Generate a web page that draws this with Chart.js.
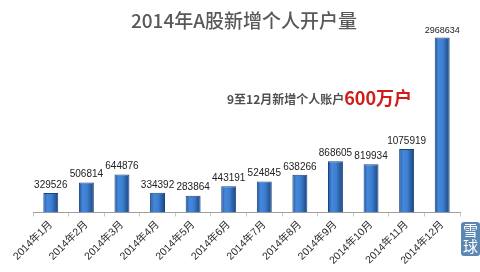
<!DOCTYPE html>
<html>
<head>
<meta charset="utf-8">
<script src="https://cdn.jsdelivr.net/npm/chart.js@4"></script>
<style>
  html, body { margin: 0; padding: 0; background: #fff; }
  #wrap { position: relative; width: 480px; height: 272px; }
  #mark {
    position: absolute; left: 461px; top: 222px; width: 19px; height: 34px;
    background: #5b87b3; border-radius: 3px; color: #fff;
    font: 15px "Noto Sans CJK SC", sans-serif; line-height: 16px; text-align: center;
  }
</style>
</head>
<body>
<div id="wrap">
  <canvas id="myChart"></canvas>
  <div id="mark">雪<br>球</div>
</div>
<script>
const months = ["2014年1月", "2014年2月", "2014年3月", "2014年4月", "2014年5月", "2014年6月",
  "2014年7月", "2014年8月", "2014年9月", "2014年10月", "2014年11月", "2014年12月"];
const accounts = [329526, 506814, 644876, 334392, 283864, 443191,
  524845, 638266, 868605, 819934, 1075919, 2968634];
const titleText = "2014年A股新增个人开户量";
const noteText = "9至12月新增个人账户";
const noteBig = "600万户";

const cjk = "'Liberation Sans', 'Noto Sans CJK SC', sans-serif";

// gradient across each bar to get the rounded look
function barFill(c) {
  const chart = c.chart;
  const area = chart.chartArea;
  if (!area) return "#3a78c9";
  const x = chart.scales.x.getPixelForValue(c.dataIndex);
  const w = (area.right - area.left) / months.length * 0.42;
  const g = chart.ctx.createLinearGradient(x - w / 2, 0, x + w / 2, 0);
  g.addColorStop(0, "#1f5299");
  g.addColorStop(0.25, "#4588da");
  g.addColorStop(0.55, "#3d7ecf");
  g.addColorStop(1, "#1a447f");
  return g;
}

const valueLabels = {
  id: "valueLabels",
  afterDatasetsDraw(chart) {
    const ctx = chart.ctx;
    const meta = chart.getDatasetMeta(0);
    ctx.save();
    ctx.fillStyle = "#222";
    ctx.textAlign = "center";
    ctx.textBaseline = "bottom";
    meta.data.forEach((bar, i) => {
      ctx.font = (i === 11 ? "9px " : "10px ") + cjk;
      ctx.fillText(accounts[i], bar.x, bar.y - 3);
    });
    ctx.restore();
  }
};

const textBits = {
  id: "textBits",
  afterDraw(chart) {
    const ctx = chart.ctx;
    ctx.save();
    ctx.textBaseline = "middle";
    ctx.textAlign = "center";
    ctx.fillStyle = "#595959";
    ctx.font = "500 19px 'Noto Sans CJK SC', sans-serif";
    ctx.fillText(titleText, 244, 21);

    ctx.textAlign = "left";
    ctx.fillStyle = "#505050";
    ctx.font = "bold 12px 'Noto Sans CJK SC', sans-serif";
    ctx.fillText(noteText, 227, 99);
    const w = ctx.measureText(noteText).width;
    ctx.fillStyle = "#d21a1a";
    ctx.font = "bold 18px 'Noto Sans CJK SC', sans-serif";
    ctx.fillText(noteBig, 227 + w, 98);
    ctx.restore();
  }
};

new Chart(document.getElementById("myChart"), {
  type: "bar",
  data: {
    labels: months,
    datasets: [{
      data: accounts,
      backgroundColor: barFill,
      borderColor: "#1a447f",
      borderWidth: 1,
      barPercentage: 0.42,
      categoryPercentage: 1
    }]
  },
  options: {
    responsive: true,
    maintainAspectRatio: false,
    animation: false,
    layout: { padding: { top: 18, right: 20, left: 33, bottom: 3 } },
    plugins: {
      legend: { display: false },
      tooltip: { enabled: false }
    },
    scales: {
      x: {
        offset: true,
        grid: {
          offset: true,
          drawOnChartArea: false,
          drawTicks: true,
          tickLength: 4,
          color: "#c8c8c8"
        },
        border: { display: true, color: "#a0a0a0" },
        ticks: {
          color: "#2a2a2a",
          font: { size: 10.5, family: cjk },
          minRotation: 45,
          maxRotation: 45,
          autoSkip: false,
          padding: 2
        }
      },
      y: {
        display: false,
        min: 0,
        max: 3300000
      }
    }
  },
  plugins: [valueLabels, textBits]
});
</script>
</body>
</html>
